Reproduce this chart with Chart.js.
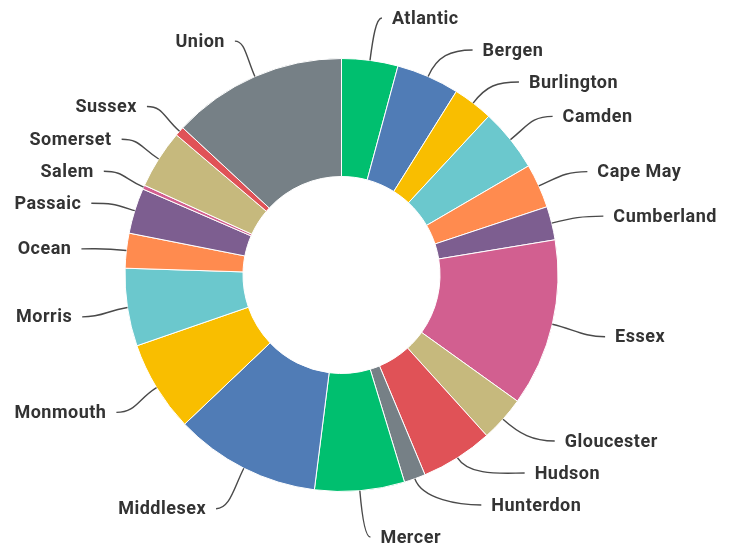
<!DOCTYPE html>
<html>
<head>
<meta charset="utf-8">
<script src="https://cdn.jsdelivr.net/npm/chart.js@4.4.1/dist/chart.umd.min.js"></script>
<style>
  html, body { margin: 0; padding: 0; background: #fff; }
  #wrap { width: 737px; height: 546px; position: relative; }
</style>
</head>
<body>
<div id="wrap"><canvas id="counties"></canvas></div>
<script>
const counties = ['Atlantic', 'Bergen', 'Burlington', 'Camden', 'Cape May', 'Cumberland', 'Essex',
    'Gloucester', 'Hudson', 'Hunterdon', 'Mercer', 'Middlesex', 'Monmouth', 'Morris', 'Ocean',
    'Passaic', 'Salem', 'Somerset', 'Sussex', 'Union'];
const shares = [4.2, 4.7, 3.0, 4.7, 3.3, 2.5, 12.5, 3.4, 5.4, 1.6, 6.7, 10.9, 6.8, 5.8, 2.6,
    3.4, 0.3, 4.4, 0.7, 13.1];
const palette = ['#00BF6F', '#507CB6', '#F9BE00', '#6BC8CD', '#FF8B4F',
    '#7D5E90', '#D25F90', '#C6B97D', '#E05257', '#768086'];

// spread labels on one side so they don't overlap (groups centred on their natural spot)
function spread(items, gap, lo, hi) {
    items.sort((a, b) => a.ny - b.ny);
    let groups = items.map(it => ({ items: [it] }));
    const place = g => {
        const size = (g.items.length - 1) * gap;
        const mean = g.items.reduce((s, it) => s + it.ny, 0) / g.items.length;
        g.top = Math.min(Math.max(mean - size / 2, lo), hi - size);
        g.size = size;
    };
    let merged = true;
    while (merged) {
        merged = false;
        groups.forEach(place);
        for (let i = 0; i < groups.length - 1; i++) {
            if (groups[i].top + groups[i].size + gap > groups[i + 1].top) {
                groups[i].items = groups[i].items.concat(groups[i + 1].items);
                groups.splice(i + 1, 1);
                merged = true;
                break;
            }
        }
    }
    groups.forEach(g => g.items.forEach((it, k) => { it.y = g.top + k * gap; }));
}

const calloutLabels = {
    id: 'calloutLabels',
    afterDraw(chart) {
        const ctx = chart.ctx;
        const arcs = chart.getDatasetMeta(0).data;
        const items = arcs.map((arc, i) => {
            const p = arc.getProps(['x', 'y', 'startAngle', 'endAngle', 'outerRadius'], true);
            const t = (p.startAngle + p.endAngle) / 2 + Math.PI / 2;
            return {
                i, t, cx: p.x, cy: p.y, r: p.outerRadius,
                right: Math.sin(t) >= 0,
                ny: p.y + 3 - (p.outerRadius + 42) * Math.cos(t)
            };
        });
        spread(items.filter(it => it.right), 32, 18, 537);
        spread(items.filter(it => !it.right), 32, 18, 537);

        ctx.save();
        ctx.font = 'bold 18px Roboto, "Noto Sans", sans-serif';
        ctx.letterSpacing = '0.5px';
        ctx.fillStyle = '#333333';
        ctx.strokeStyle = '#4a4a4a';
        ctx.lineWidth = 1.4;
        ctx.textBaseline = 'middle';
        items.forEach(it => {
            const s = it.right ? 1 : -1;
            const sinT = Math.sin(it.t);
            // labels sit on an ellipse around the ring, near-vertical ones just beside their leader
            const a = it.r + 59.5, b = it.r + 48.5;
            const ecx = it.cx + 4, ecy = it.cy + 5;
            const dy = it.y - ecy;
            const onEllipse = ecx + s * a * Math.sqrt(Math.max(0, 1 - (dy / b) * (dy / b)));
            const beside = it.cx + s * (Math.abs((it.r + 30) * sinT) + 18);
            let lx;
            if (Math.abs(sinT) < 0.15) lx = beside;
            else lx = it.right ? Math.max(onEllipse, beside) : Math.min(onEllipse, beside);

            const x0 = it.cx + it.r * sinT, y0 = it.cy - it.r * Math.cos(it.t);
            const x1 = it.cx + (it.r + 22) * sinT, y1 = it.cy - (it.r + 22) * Math.cos(it.t);
            const ex = lx - s * 10, ey = it.y;
            const pull = Math.min(22, Math.abs(ex - x0) * 0.5);
            ctx.beginPath();
            ctx.moveTo(x0, y0);
            ctx.bezierCurveTo(x1, y1, ex - s * pull, ey, ex, ey);
            ctx.stroke();

            ctx.textAlign = it.right ? 'left' : 'right';
            ctx.fillText(counties[it.i], lx, it.y + 1);
        });
        ctx.restore();
    }
};

const ctx = document.getElementById('counties');
new Chart(ctx, {
    type: 'doughnut',
    data: {
        labels: counties,
        datasets: [{
            data: shares,
            backgroundColor: counties.map((c, i) => palette[i % palette.length]),
            borderColor: '#ffffff',
            borderWidth: 1,
            hoverOffset: 0
        }]
    },
    options: {
        responsive: true,
        maintainAspectRatio: false,
        animation: false,
        cutout: '45.5%',
        layout: {
            padding: { top: 58, bottom: 54, left: 124, right: 178 }
        },
        plugins: {
            legend: { display: false },
            tooltip: { enabled: false }
        }
    },
    plugins: [calloutLabels]
});
</script>
</body>
</html>
